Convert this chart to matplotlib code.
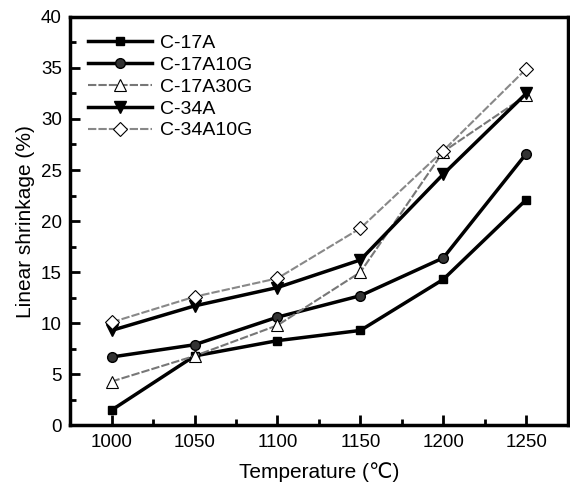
import numpy as np
import matplotlib
matplotlib.use('Agg')
import matplotlib.pyplot as plt
from matplotlib.ticker import MultipleLocator

plt.rcParams['font.family'] = ['Liberation Sans', 'DejaVu Sans']

temperature = [1000, 1050, 1100, 1150, 1200, 1250]
c17a = [1.5, 6.8, 8.3, 9.3, 14.3, 22.1]
c17a10g = [6.7, 7.9, 10.6, 12.7, 16.4, 26.6]
c17a30g = [4.3, 6.8, 9.8, 15.0, 26.8, 32.3]
c34a = [9.3, 11.7, 13.5, 16.2, 24.6, 32.5]
c34a10g = [10.1, 12.6, 14.4, 19.3, 26.9, 34.9]

fig = plt.figure(figsize=(5.7, 4.93), dpi=100)
ax = fig.add_axes([0.123, 0.137, 0.873, 0.829])

ax.plot(temperature, c17a, '-s', color='black', lw=2.5, ms=6, label='C-17A')
ax.plot(temperature, c17a10g, '-o', color='black', mfc='#333333', lw=2.5, ms=7, label='C-17A10G')
ax.plot(temperature, c17a30g, '--^', color='#777777', mfc='white', mec='black', mew=0.8,
        lw=1.5, ms=8, dashes=(4, 1), label='C-17A30G')
ax.plot(temperature, c34a, '-v', color='black', lw=2.5, ms=8, label='C-34A')
ax.plot(temperature, c34a10g, '--D', color='#888888', mfc='white', mec='black', mew=0.8,
        lw=1.5, ms=7, dashes=(4, 1), label='C-34A10G')

ax.set_xlim(975, 1275)
ax.set_ylim(0, 40)
ax.xaxis.set_major_locator(MultipleLocator(50))
ax.xaxis.set_minor_locator(MultipleLocator(25))
ax.yaxis.set_major_locator(MultipleLocator(5))
ax.yaxis.set_minor_locator(MultipleLocator(2.5))
ax.tick_params(which='both', direction='in', width=2, labelsize=13.5)
ax.tick_params(which='major', length=7, pad=6)
ax.tick_params(which='minor', length=4)
for s in ax.spines.values():
    s.set_linewidth(2.5)

ax.set_xlabel('Temperature (℃)', fontsize=15, labelpad=8)
ax.set_ylabel('Linear shrinkage (%)', fontsize=15, labelpad=4)
ax.legend(loc='upper left', frameon=False, fontsize=14, handlelength=3.3,
          labelspacing=0.22, borderaxespad=0.5, handletextpad=0.4)

fig.savefig('out.png', dpi=100)
